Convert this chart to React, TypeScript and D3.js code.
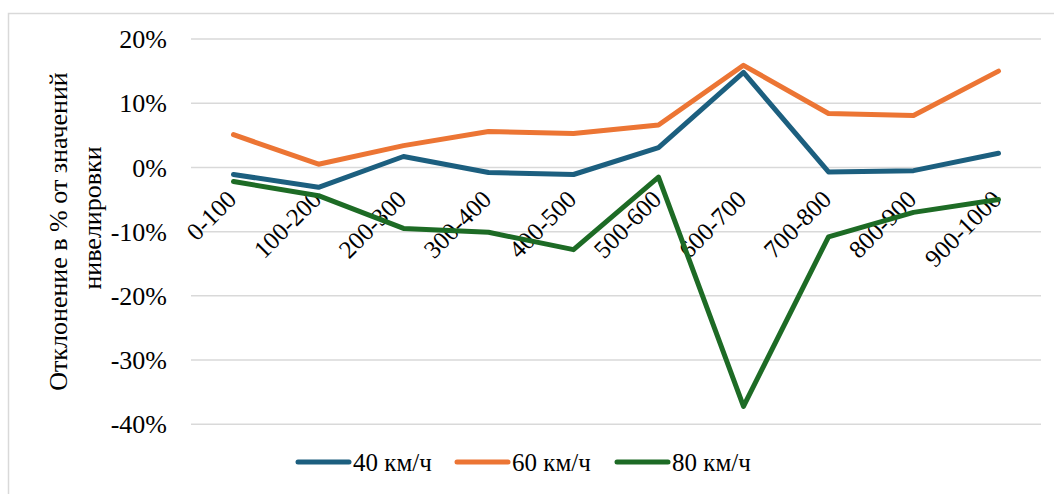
import React from "react";
import * as d3 from "d3";

const categories = ["0-100", "100-200", "200-300", "300-400", "400-500", "500-600", "600-700", "700-800", "800-900", "900-1000"];
const speed40 = [-1.1, -3.1, 1.7, -0.8, -1.1, 3.1, 14.8, -0.7, -0.5, 2.2];
const speed60 = [5.1, 0.5, 3.4, 5.6, 5.3, 6.6, 15.9, 8.4, 8.1, 15.0];
const speed80 = [-2.2, -4.4, -9.5, -10.1, -12.8, -1.5, -37.2, -10.8, -7.0, -5.0];
const yTicks = [20, 10, 0, -10, -20, -30, -40];
const seriesNames = ["40 км/ч", "60 км/ч", "80 км/ч"];
const seriesColors = ["#1c5f7f", "#ec7534", "#1d6b25"];

const W = 1054;
const H = 494;
const FONT = '"Times New Roman", "Liberation Serif", Times, "DejaVu Serif", serif';

export default function App() {
  const x = d3.scaleBand<string>().domain(categories).range([191, 1041]);
  const y = d3.scaleLinear().domain([-40, 20]).range([424.3, 39]);
  const line = d3
    .line<number>()
    .x((_, i) => (x(categories[i]) as number) + x.bandwidth() / 2)
    .y((v) => y(v));
  const series = [speed40, speed60, speed80];
  const legendX = [298, 457, 617];

  return (
    <svg
      width={W}
      height={H}
      style={{ position: "absolute", left: 0, top: 0, background: "#fff", fontFamily: FONT }}
    >
      <rect x={8.5} y={13.5} width={W} height={H} fill="none" stroke="#d9d9d9" strokeWidth={1.5} />
      {yTicks.map((t) => (
        <g key={t}>
          <line x1={191} x2={1041} y1={y(t)} y2={y(t)} stroke="#d9d9d9" strokeWidth={1.5} />
          <text x={167} y={y(t)} dy="0.35em" textAnchor="end" fontSize={26} fill="#000">
            {`${t}%`}
          </text>
        </g>
      ))}
      <text
        transform="translate(58,231.5) rotate(-90)"
        dy="0.35em"
        textAnchor="middle"
        fontSize={26}
      >
        Отклонение в % от значений
      </text>
      <text
        transform="translate(92,218) rotate(-90)"
        dy="0.35em"
        textAnchor="middle"
        fontSize={26}
      >
        нивелировки
      </text>
      {categories.map((c) => {
        const cx = (x(c) as number) + x.bandwidth() / 2;
        return (
          <text
            key={c}
            transform={`translate(${cx - 8},${y(0) + 21}) rotate(-45)`}
            textAnchor="end"
            dy="0.7em"
            fontSize={25}
          >
            {c}
          </text>
        );
      })}
      {series.map((s, i) => (
        <path
          key={i}
          d={line(s) as string}
          fill="none"
          stroke={seriesColors[i]}
          strokeWidth={5}
          strokeLinejoin="round"
          strokeLinecap="round"
        />
      ))}
      {seriesNames.map((n, i) => (
        <g key={n}>
          <line
            x1={legendX[i]}
            x2={legendX[i] + 51}
            y1={462}
            y2={462}
            stroke={seriesColors[i]}
            strokeWidth={5}
            strokeLinecap="round"
          />
          <text x={legendX[i] + 55} y={462} dy="0.35em" fontSize={25}>
            {n}
          </text>
        </g>
      ))}
    </svg>
  );
}
